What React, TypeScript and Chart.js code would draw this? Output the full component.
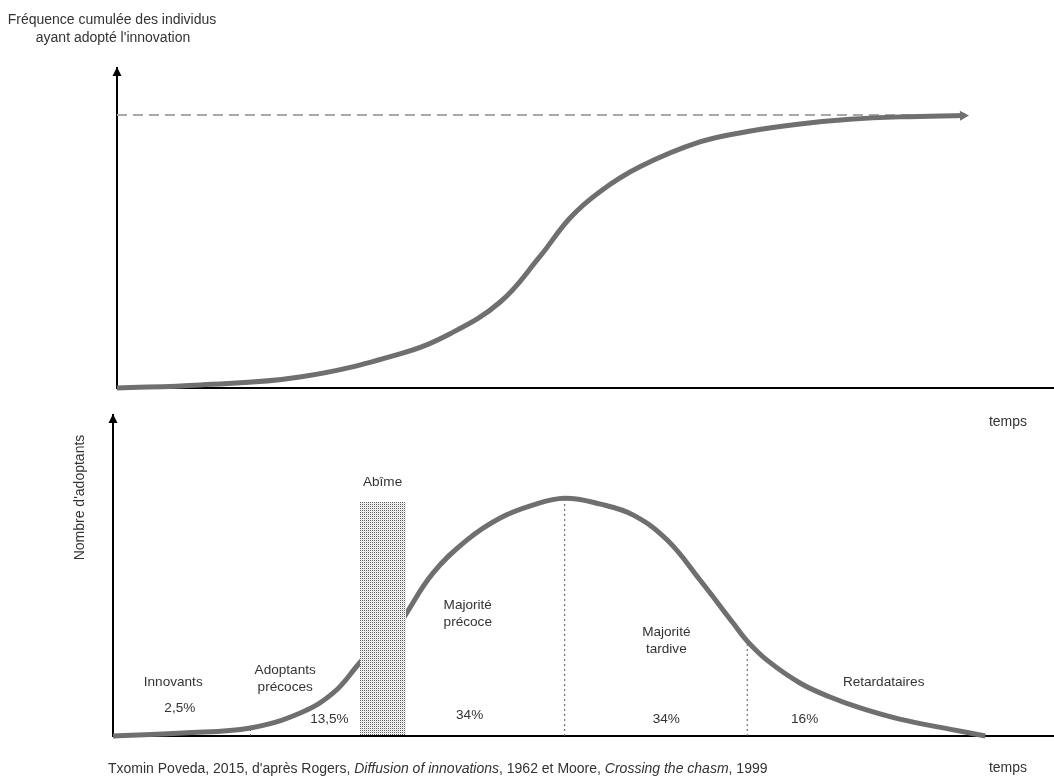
import React, { useEffect, useRef } from "react";
import { Chart, registerables } from "chart.js";

Chart.register(...registerables);

// ---------- data ----------
// Upper panel: cumulative share of adopters (%) over time (arbitrary time units 0..100)
const cumTime = [0, 8.9, 19.5, 30.2, 35.5, 40.9, 45.1, 48.3, 51.5, 55.8, 62.2, 67.6, 72.9, 78.2, 83.6, 90.5];
const cumShare = [0, 1.1, 4.0, 12.5, 19.8, 31.5, 48.0, 62.1, 71.8, 81.0, 90.1, 94.1, 96.7, 98.4, 99.3, 99.8];
const saturationLevel = 100;
const saturationEnd = 90.5;

// Lower panel: number of adopters (peak = 100) over time, broken by the chasm
const earlyTime = [0, 7.4, 14.6, 19.9, 23.4, 26.2, 28.2];
const earlyCount = [0, 1.3, 3.4, 9.7, 18.1, 30.7, 39.5];
const lateTime = [30.0, 31.2, 34.0, 37.6, 41.1, 44.6, 48.0, 51.8, 55.3, 58.9, 62.4, 65.9, 67.4, 69.5, 73.0, 76.2, 79.4, 83.6, 88.9, 92.7];
const lateCount = [43.7, 51.7, 68.5, 82.4, 91.6, 97.1, 100, 97.5, 92.9, 82.4, 65.5, 47.5, 39.9, 31.9, 22.3, 16.4, 11.8, 7.1, 2.9, 0];
const dividerTimes = [14.6, 48.0, 67.4];
const chasmFrom = 26.2;
const chasmTo = 31.1;
const chasmHeight = 98.3;

// Texts
const topTitle = ["Fréquence cumulée des individus", "ayant adopté l'innovation"];
const bottomAxisTitle = "Nombre d'adoptants";
const timeLabel = "temps";
const chasmLabel = "Abîme";
const groupNames = [["Innovants"], ["Adoptants", "précoces"], ["Majorité", "précoce"], ["Majorité", "tardive"], ["Retardataires"]];
const groupShares = ["2,5%", "13,5%", "34%", "34%", "16%"];
const sourceParts = [
  { text: "Txomin Poveda, 2015, d'après Rogers, ", italic: false },
  { text: "Diffusion of innovations", italic: true },
  { text: ", 1962 et Moore, ", italic: false },
  { text: "Crossing the chasm", italic: true },
  { text: ", 1999", italic: false },
];

// ---------- styles ----------
const W = 1054;
const H = 776;
const FAMILY = '"Liberation Sans", Arial, sans-serif';
const TEXT_COLOR = "#333333";
const CURVE_COLOR = "#6f6f6f";

// label anchors in data units (time, value) for the lower panel
const groupNameAnchors = [
  [6.4, 22.7],
  [18.3, 27.7],
  [37.7, 55.0],
  [58.8, 43.7],
  [81.9, 22.7],
];
const groupShareAnchors = [
  [7.1, 11.8],
  [23.0, 7.1],
  [37.9, 8.8],
  [58.8, 7.1],
  [73.5, 7.1],
];

function font(size: number, italic = false) {
  return `${italic ? "italic " : ""}${size}px ${FAMILY}`;
}

function drawUpArrow(ctx: CanvasRenderingContext2D, x: number, top: number) {
  ctx.save();
  ctx.fillStyle = "#000";
  ctx.beginPath();
  ctx.moveTo(x, top - 1);
  ctx.lineTo(x - 4.5, top + 8);
  ctx.lineTo(x + 4.5, top + 8);
  ctx.closePath();
  ctx.fill();
  ctx.restore();
}

function makePattern(ctx: CanvasRenderingContext2D) {
  const c = document.createElement("canvas");
  c.width = 2;
  c.height = 2;
  const p = c.getContext("2d")!;
  p.fillStyle = "#ffffff";
  p.fillRect(0, 0, 2, 2);
  p.fillStyle = "#5a5a5a";
  p.fillRect(0, 0, 1, 1);
  p.fillStyle = "#dcdcdc";
  p.fillRect(1, 1, 1, 1);
  return ctx.createPattern(c, "repeat");
}

function countAt(t: number) {
  let i = earlyTime.indexOf(t);
  if (i >= 0) return earlyCount[i];
  i = lateTime.indexOf(t);
  return i >= 0 ? lateCount[i] : 0;
}

const axisOpts = (min: number, max: number) => ({
  type: "linear" as const,
  min,
  max,
  display: true,
  grid: { display: false, drawTicks: false },
  ticks: { display: false },
  border: { display: true, color: "#000", width: 2 },
});

const curveStyle = {
  borderColor: CURVE_COLOR,
  borderWidth: 5,
  pointRadius: 0,
  tension: 0.4,
  clip: false,
  fill: false,
};

export default function App() {
  const topRef = useRef<HTMLCanvasElement>(null);
  const botRef = useRef<HTMLCanvasElement>(null);

  useEffect(() => {
    const topDecor = {
      id: "topDecor",
      afterDraw(chart: any) {
        const { ctx, chartArea } = chart;
        drawUpArrow(ctx, chartArea.left, chartArea.top);
        // arrow at end of the S curve
        const pts = chart.getDatasetMeta(0).data;
        const a = pts[pts.length - 2];
        const b = pts[pts.length - 1];
        const ang = Math.atan2(b.y - a.y, b.x - a.x);
        ctx.save();
        ctx.translate(b.x + 2, b.y);
        ctx.rotate(ang);
        ctx.fillStyle = CURVE_COLOR;
        ctx.beginPath();
        ctx.moveTo(2, 0);
        ctx.lineTo(-7, -5);
        ctx.lineTo(-7, 5);
        ctx.closePath();
        ctx.fill();
        ctx.restore();
        // texts
        ctx.save();
        ctx.fillStyle = TEXT_COLOR;
        ctx.font = font(14);
        ctx.textAlign = "center";
        ctx.textBaseline = "middle";
        ctx.fillText(topTitle[0], chartArea.left - 5, 20);
        ctx.fillText(topTitle[1], chartArea.left - 4, 38);
        ctx.fillText(timeLabel, 1008, chartArea.bottom + 34);
        ctx.restore();
      },
    };

    const botDecor = {
      id: "botDecor",
      afterDatasetsDraw(chart: any) {
        const { ctx, scales } = chart;
        const x = scales.x;
        const y = scales.y;
        const x0 = Math.round(x.getPixelForValue(chasmFrom));
        const x1 = Math.round(x.getPixelForValue(chasmTo));
        const y0 = Math.round(y.getPixelForValue(chasmHeight));
        const yb = Math.round(y.getPixelForValue(0)) - 1;
        ctx.save();
        ctx.fillStyle = "#fff";
        ctx.fillRect(x0, y0, x1 - x0, yb - y0);
        const pat = makePattern(ctx);
        if (pat) {
          ctx.fillStyle = pat;
          ctx.fillRect(x0, y0, x1 - x0, yb - y0);
        }
        ctx.restore();
      },
      afterDraw(chart: any) {
        const { ctx, chartArea, scales } = chart;
        const x = scales.x;
        const y = scales.y;
        drawUpArrow(ctx, chartArea.left, chartArea.top);
        ctx.save();
        ctx.fillStyle = TEXT_COLOR;
        ctx.font = font(13.6);
        ctx.textAlign = "center";
        ctx.textBaseline = "middle";
        const lh = 17;
        groupNames.forEach((lines, i) => {
          const [t, v] = groupNameAnchors[i];
          const px = x.getPixelForValue(t);
          const py = y.getPixelForValue(v);
          lines.forEach((ln, k) => ctx.fillText(ln, px, py + k * lh));
        });
        groupShares.forEach((s, i) => {
          const [t, v] = groupShareAnchors[i];
          ctx.fillText(s, x.getPixelForValue(t), y.getPixelForValue(v));
        });
        const cx = (x.getPixelForValue(chasmFrom) + x.getPixelForValue(chasmTo)) / 2;
        ctx.fillText(chasmLabel, cx, y.getPixelForValue(chasmHeight) - 20);
        ctx.font = font(14);
        ctx.fillText(timeLabel, 1008, chartArea.bottom + 32);
        // rotated axis title
        ctx.save();
        ctx.translate(80, (chartArea.top + chartArea.bottom) / 2 - 78);
        ctx.rotate(-Math.PI / 2);
        ctx.font = font(14);
        ctx.fillText(bottomAxisTitle, 0, 0);
        ctx.restore();
        // source line with italics
        ctx.textAlign = "left";
        let cur = 108;
        const sy = chartArea.bottom + 33;
        sourceParts.forEach((p) => {
          ctx.font = font(14, p.italic);
          ctx.fillText(p.text, cur, sy);
          cur += ctx.measureText(p.text).width;
        });
        ctx.restore();
      },
    };

    const topChart = new Chart(topRef.current!, {
      type: "line",
      data: {
        datasets: [
          {
            ...curveStyle,
            data: cumTime.map((t, i) => ({ x: t, y: cumShare[i] })),
          },
          {
            data: [
              { x: 0, y: saturationLevel },
              { x: saturationEnd, y: saturationLevel },
            ],
            borderColor: "#a9a9a9",
            borderWidth: 2,
            borderDash: [10, 6],
            pointRadius: 0,
            clip: false,
            fill: false,
          },
        ],
      } as any,
      options: {
        responsive: false,
        animation: false,
        events: [],
        layout: { padding: { left: 117, right: 0, top: 68, bottom: H - 388 } },
        plugins: { legend: { display: false }, tooltip: { enabled: false }, title: { display: false } },
        scales: { x: axisOpts(0, 100), y: axisOpts(0, 117.2) },
      } as any,
      plugins: [topDecor],
    });

    const dividerSets = dividerTimes.map((t) => ({
      data: [
        { x: t, y: 0 },
        { x: t, y: countAt(t) },
      ],
      borderColor: "#555555",
      borderWidth: 1,
      borderDash: [2, 3],
      pointRadius: 0,
      clip: false,
      fill: false,
    }));

    const botChart = new Chart(botRef.current!, {
      type: "line",
      data: {
        datasets: [
          { ...curveStyle, data: earlyTime.map((t, i) => ({ x: t, y: earlyCount[i] })) },
          { ...curveStyle, data: lateTime.map((t, i) => ({ x: t, y: lateCount[i] })) },
          ...dividerSets,
        ],
      } as any,
      options: {
        responsive: false,
        animation: false,
        events: [],
        layout: { padding: { left: 113, right: 0, top: 415, bottom: H - 736 } },
        plugins: { legend: { display: false }, tooltip: { enabled: false }, title: { display: false } },
        scales: { x: axisOpts(0, 100), y: axisOpts(0, 135) },
      } as any,
      plugins: [botDecor],
    });

    return () => {
      topChart.destroy();
      botChart.destroy();
    };
  }, []);

  const canvasStyle: React.CSSProperties = { position: "absolute", left: 0, top: 0, width: W, height: H };
  return (
    <div style={{ position: "fixed", left: 0, top: 0, width: W, height: H, background: "#fff", overflow: "hidden" }}>
      <canvas ref={topRef} width={W} height={H} style={canvasStyle} />
      <canvas ref={botRef} width={W} height={H} style={canvasStyle} />
    </div>
  );
}
